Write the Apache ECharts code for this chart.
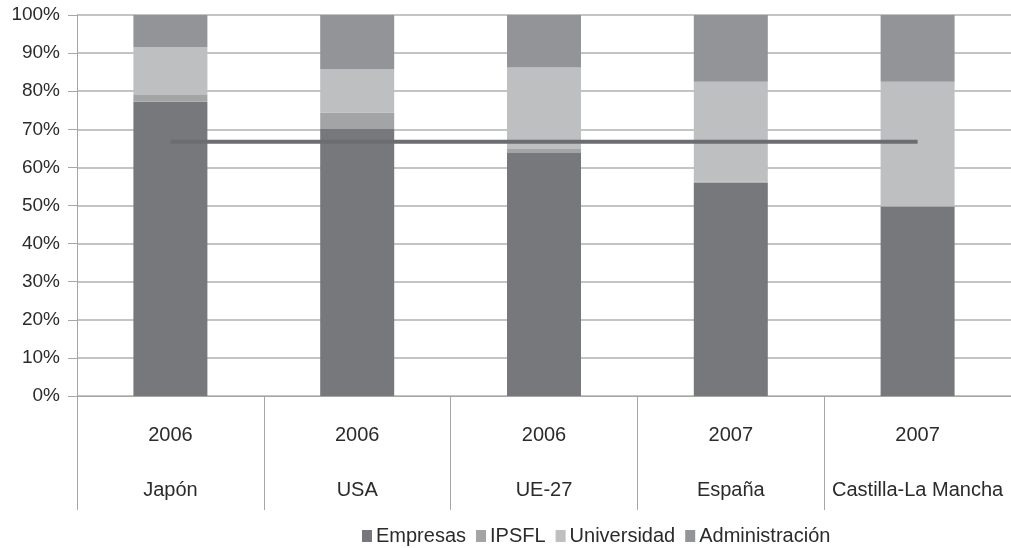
<!DOCTYPE html>
<html>
<head>
<meta charset="utf-8">
<script src="https://cdn.jsdelivr.net/npm/echarts@6/dist/echarts.min.js"></script>
<style>html,body{margin:0;padding:0;background:#fff}#c{width:1011px;height:548px}</style>
</head>
<body>
<div id="c"></div>
<script>
const years = ['2006', '2006', '2006', '2007', '2007'];
const countries = ['Japón', 'USA', 'UE-27', 'España', 'Castilla-La Mancha'];
const empresas = [77.2, 70.1, 63.8, 56.0, 49.7];
const ipsfl = [1.8, 4.3, 1.0, 0.3, 0.2];
const universidad = [12.6, 11.4, 21.4, 26.2, 32.6];
const administracion = [8.4, 14.2, 13.8, 17.5, 17.5];
const objetivo = [66.7, 66.7, 66.7, 66.7, 66.7];

const categories = years.map((y, i) => y + '\n' + countries[i]);
const font = '"Liberation Sans", Arial, sans-serif';
const chart = echarts.init(document.getElementById('c'));
const bar = (name, data, color) => ({
  name, type: 'bar', stack: 'total', data, barWidth: 74,
  itemStyle: { color }, emphasis: { disabled: true }
});
chart.setOption({
  animation: false,
  textStyle: { fontFamily: font, color: '#2b2b2b' },
  grid: { left: 77, right: -1, top: 15, bottom: 152, containLabel: false },
  legend: {
    data: ['Empresas', 'IPSFL', 'Universidad', 'Administración'],
    left: 357, top: 521, itemWidth: 10, itemHeight: 12, itemGap: 10,
    textStyle: { fontFamily: font, fontSize: 20, color: '#2b2b2b', padding: [0, 0, 0, -1] },
    icon: 'rect'
  },
  xAxis: {
    type: 'category', data: categories,
    axisLine: { lineStyle: { color: '#a6a6a6', width: 1 } },
    axisTick: { show: true, length: 114, interval: 0, lineStyle: { color: '#a6a6a6' } },
    axisLabel: { interval: 0, fontSize: 20, lineHeight: 55, margin: 12, color: '#2b2b2b', fontFamily: font }
  },
  yAxis: {
    type: 'value', min: 0, max: 100, interval: 10,
    axisLine: { show: true, lineStyle: { color: '#a6a6a6' } },
    axisTick: { show: true, length: 9, lineStyle: { color: '#a6a6a6' } },
    splitLine: { lineStyle: { color: '#b0b0b0', width: 1.5 } },
    axisLabel: { formatter: '{value}%', fontSize: 19, margin: 17, color: '#2b2b2b', fontFamily: font }
  },
  series: [
    bar('Empresas', empresas, '#77787b'),
    bar('IPSFL', ipsfl, '#a3a4a6'),
    bar('Universidad', universidad, '#bebfc1'),
    bar('Administración', administracion, '#939497'),
    {
      name: 'Objetivo', type: 'line', data: objetivo, symbol: 'none',
      lineStyle: { color: '#6c6d70', width: 4 }, z: 5, emphasis: { disabled: true }
    }
  ]
});
</script>
</body>
</html>
